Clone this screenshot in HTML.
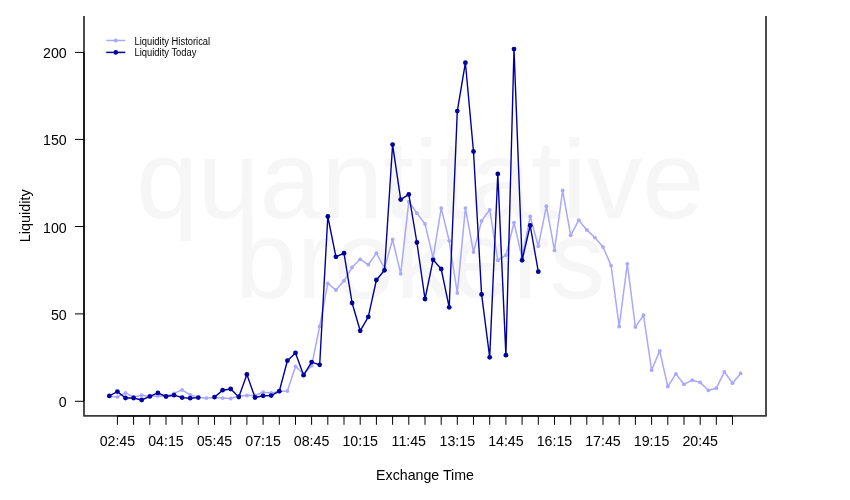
<!DOCTYPE html>
<html><head><meta charset="utf-8"><style>
html,body{margin:0;padding:0;background:#fff;width:850px;height:500px;overflow:hidden}
svg{display:block;will-change:transform}
text{font-family:"Liberation Sans",sans-serif;fill:#000}
</style></head><body>
<svg width="850" height="500" viewBox="0 0 850 500">
<g style="fill:#f6f6f6" font-family="Liberation Sans, sans-serif" font-size="111" text-anchor="middle"><text style="fill:#f6f6f6" x="420" y="218">quantitative</text><text style="fill:#f6f6f6" x="420" y="298">brokers</text></g>
<polyline points="109.3,396.6 117.4,396.9 125.5,393.0 133.6,396.9 141.7,395.2 149.8,396.6 157.9,395.9 166.0,396.2 174.1,393.4 182.1,389.9 190.2,394.8 198.3,397.4 206.4,398.1 214.5,397.6 222.6,398.1 230.7,398.5 238.8,396.0 246.9,395.5 255.0,395.5 263.1,392.2 271.2,393.0 279.3,391.5 287.4,391.0 295.5,366.5 303.6,374.0 311.6,365.7 319.7,326.4 327.8,283.4 335.9,290.0 344.0,280.8 352.1,267.3 360.2,259.3 368.3,264.7 376.4,253.2 384.5,268.0 392.6,239.5 400.7,273.8 408.8,201.7 416.9,213.2 425.0,224.0 433.1,258.0 441.2,208.1 449.2,240.8 457.3,293.0 465.4,208.1 473.5,252.1 481.6,220.9 489.7,209.8 497.8,260.4 505.9,255.2 514.0,222.7 522.1,258.0 530.2,216.5 538.3,246.2 546.4,206.2 554.5,250.4 562.6,190.5 570.7,235.3 578.8,220.2 586.8,229.9 594.9,237.6 603.0,247.0 611.1,265.6 619.2,326.5 627.3,263.8 635.4,327.1 643.5,315.2 651.6,370.2 659.7,350.9 667.8,386.5 675.9,373.9 684.0,384.3 692.1,380.2 700.2,382.4 708.3,390.3 716.3,388.2 724.4,371.8 732.5,383.2 740.6,373.4" fill="none" stroke="#a8a8fc" stroke-width="1.5" stroke-linejoin="round"/>
<circle cx="109.3" cy="396.6" r="1.9" fill="#a8a8fc"/>
<circle cx="117.4" cy="396.9" r="1.9" fill="#a8a8fc"/>
<circle cx="125.5" cy="393.0" r="1.9" fill="#a8a8fc"/>
<circle cx="133.6" cy="396.9" r="1.9" fill="#a8a8fc"/>
<circle cx="141.7" cy="395.2" r="1.9" fill="#a8a8fc"/>
<circle cx="149.8" cy="396.6" r="1.9" fill="#a8a8fc"/>
<circle cx="157.9" cy="395.9" r="1.9" fill="#a8a8fc"/>
<circle cx="166.0" cy="396.2" r="1.9" fill="#a8a8fc"/>
<circle cx="174.1" cy="393.4" r="1.9" fill="#a8a8fc"/>
<circle cx="182.1" cy="389.9" r="1.9" fill="#a8a8fc"/>
<circle cx="190.2" cy="394.8" r="1.9" fill="#a8a8fc"/>
<circle cx="198.3" cy="397.4" r="1.9" fill="#a8a8fc"/>
<circle cx="206.4" cy="398.1" r="1.9" fill="#a8a8fc"/>
<circle cx="214.5" cy="397.6" r="1.9" fill="#a8a8fc"/>
<circle cx="222.6" cy="398.1" r="1.9" fill="#a8a8fc"/>
<circle cx="230.7" cy="398.5" r="1.9" fill="#a8a8fc"/>
<circle cx="238.8" cy="396.0" r="1.9" fill="#a8a8fc"/>
<circle cx="246.9" cy="395.5" r="1.9" fill="#a8a8fc"/>
<circle cx="255.0" cy="395.5" r="1.9" fill="#a8a8fc"/>
<circle cx="263.1" cy="392.2" r="1.9" fill="#a8a8fc"/>
<circle cx="271.2" cy="393.0" r="1.9" fill="#a8a8fc"/>
<circle cx="279.3" cy="391.5" r="1.9" fill="#a8a8fc"/>
<circle cx="287.4" cy="391.0" r="1.9" fill="#a8a8fc"/>
<circle cx="295.5" cy="366.5" r="1.9" fill="#a8a8fc"/>
<circle cx="303.6" cy="374.0" r="1.9" fill="#a8a8fc"/>
<circle cx="311.6" cy="365.7" r="1.9" fill="#a8a8fc"/>
<circle cx="319.7" cy="326.4" r="1.9" fill="#a8a8fc"/>
<circle cx="327.8" cy="283.4" r="1.9" fill="#a8a8fc"/>
<circle cx="335.9" cy="290.0" r="1.9" fill="#a8a8fc"/>
<circle cx="344.0" cy="280.8" r="1.9" fill="#a8a8fc"/>
<circle cx="352.1" cy="267.3" r="1.9" fill="#a8a8fc"/>
<circle cx="360.2" cy="259.3" r="1.9" fill="#a8a8fc"/>
<circle cx="368.3" cy="264.7" r="1.9" fill="#a8a8fc"/>
<circle cx="376.4" cy="253.2" r="1.9" fill="#a8a8fc"/>
<circle cx="384.5" cy="268.0" r="1.9" fill="#a8a8fc"/>
<circle cx="392.6" cy="239.5" r="1.9" fill="#a8a8fc"/>
<circle cx="400.7" cy="273.8" r="1.9" fill="#a8a8fc"/>
<circle cx="408.8" cy="201.7" r="1.9" fill="#a8a8fc"/>
<circle cx="416.9" cy="213.2" r="1.9" fill="#a8a8fc"/>
<circle cx="425.0" cy="224.0" r="1.9" fill="#a8a8fc"/>
<circle cx="433.1" cy="258.0" r="1.9" fill="#a8a8fc"/>
<circle cx="441.2" cy="208.1" r="1.9" fill="#a8a8fc"/>
<circle cx="449.2" cy="240.8" r="1.9" fill="#a8a8fc"/>
<circle cx="457.3" cy="293.0" r="1.9" fill="#a8a8fc"/>
<circle cx="465.4" cy="208.1" r="1.9" fill="#a8a8fc"/>
<circle cx="473.5" cy="252.1" r="1.9" fill="#a8a8fc"/>
<circle cx="481.6" cy="220.9" r="1.9" fill="#a8a8fc"/>
<circle cx="489.7" cy="209.8" r="1.9" fill="#a8a8fc"/>
<circle cx="497.8" cy="260.4" r="1.9" fill="#a8a8fc"/>
<circle cx="505.9" cy="255.2" r="1.9" fill="#a8a8fc"/>
<circle cx="514.0" cy="222.7" r="1.9" fill="#a8a8fc"/>
<circle cx="522.1" cy="258.0" r="1.9" fill="#a8a8fc"/>
<circle cx="530.2" cy="216.5" r="1.9" fill="#a8a8fc"/>
<circle cx="538.3" cy="246.2" r="1.9" fill="#a8a8fc"/>
<circle cx="546.4" cy="206.2" r="1.9" fill="#a8a8fc"/>
<circle cx="554.5" cy="250.4" r="1.9" fill="#a8a8fc"/>
<circle cx="562.6" cy="190.5" r="1.9" fill="#a8a8fc"/>
<circle cx="570.7" cy="235.3" r="1.9" fill="#a8a8fc"/>
<circle cx="578.8" cy="220.2" r="1.9" fill="#a8a8fc"/>
<circle cx="586.8" cy="229.9" r="1.9" fill="#a8a8fc"/>
<circle cx="594.9" cy="237.6" r="1.9" fill="#a8a8fc"/>
<circle cx="603.0" cy="247.0" r="1.9" fill="#a8a8fc"/>
<circle cx="611.1" cy="265.6" r="1.9" fill="#a8a8fc"/>
<circle cx="619.2" cy="326.5" r="1.9" fill="#a8a8fc"/>
<circle cx="627.3" cy="263.8" r="1.9" fill="#a8a8fc"/>
<circle cx="635.4" cy="327.1" r="1.9" fill="#a8a8fc"/>
<circle cx="643.5" cy="315.2" r="1.9" fill="#a8a8fc"/>
<circle cx="651.6" cy="370.2" r="1.9" fill="#a8a8fc"/>
<circle cx="659.7" cy="350.9" r="1.9" fill="#a8a8fc"/>
<circle cx="667.8" cy="386.5" r="1.9" fill="#a8a8fc"/>
<circle cx="675.9" cy="373.9" r="1.9" fill="#a8a8fc"/>
<circle cx="684.0" cy="384.3" r="1.9" fill="#a8a8fc"/>
<circle cx="692.1" cy="380.2" r="1.9" fill="#a8a8fc"/>
<circle cx="700.2" cy="382.4" r="1.9" fill="#a8a8fc"/>
<circle cx="708.3" cy="390.3" r="1.9" fill="#a8a8fc"/>
<circle cx="716.3" cy="388.2" r="1.9" fill="#a8a8fc"/>
<circle cx="724.4" cy="371.8" r="1.9" fill="#a8a8fc"/>
<circle cx="732.5" cy="383.2" r="1.9" fill="#a8a8fc"/>
<circle cx="740.6" cy="373.4" r="1.9" fill="#a8a8fc"/>
<polyline points="109.3,395.9 117.4,391.6 125.5,398.0 133.6,398.0 141.7,400.0 149.8,396.4 157.9,392.9 166.0,396.5 174.1,395.2 182.1,397.6 190.2,398.2 198.3,397.6" fill="none" stroke="#00009c" stroke-width="1.4" stroke-linejoin="round"/>
<polyline points="214.5,397.1 222.6,390.2 230.7,389.0 238.8,397.0 246.9,374.5 255.0,397.5 263.1,395.8 271.2,395.6 279.3,391.2 287.4,360.7 295.5,352.9 303.6,375.2 311.6,362.1 319.7,364.8 327.8,216.5 335.9,256.8 344.0,253.2 352.1,303.0 360.2,330.8 368.3,316.9 376.4,280.0 384.5,270.3 392.6,144.6 400.7,199.6 408.8,194.4 416.9,242.5 425.0,299.0 433.1,259.8 441.2,269.0 449.2,307.3 457.3,111.1 465.4,62.7 473.5,151.5 481.6,294.4 489.7,357.3 497.8,173.9 505.9,355.2 514.0,49.1 522.1,260.3 530.2,225.5 538.3,271.7" fill="none" stroke="#00009c" stroke-width="1.4" stroke-linejoin="round"/>
<circle cx="109.3" cy="395.9" r="2.4" fill="#00009c"/>
<circle cx="117.4" cy="391.6" r="2.4" fill="#00009c"/>
<circle cx="125.5" cy="398.0" r="2.4" fill="#00009c"/>
<circle cx="133.6" cy="398.0" r="2.4" fill="#00009c"/>
<circle cx="141.7" cy="400.0" r="2.4" fill="#00009c"/>
<circle cx="149.8" cy="396.4" r="2.4" fill="#00009c"/>
<circle cx="157.9" cy="392.9" r="2.4" fill="#00009c"/>
<circle cx="166.0" cy="396.5" r="2.4" fill="#00009c"/>
<circle cx="174.1" cy="395.2" r="2.4" fill="#00009c"/>
<circle cx="182.1" cy="397.6" r="2.4" fill="#00009c"/>
<circle cx="190.2" cy="398.2" r="2.4" fill="#00009c"/>
<circle cx="198.3" cy="397.6" r="2.4" fill="#00009c"/>
<circle cx="214.5" cy="397.1" r="2.4" fill="#00009c"/>
<circle cx="222.6" cy="390.2" r="2.4" fill="#00009c"/>
<circle cx="230.7" cy="389.0" r="2.4" fill="#00009c"/>
<circle cx="238.8" cy="397.0" r="2.4" fill="#00009c"/>
<circle cx="246.9" cy="374.5" r="2.4" fill="#00009c"/>
<circle cx="255.0" cy="397.5" r="2.4" fill="#00009c"/>
<circle cx="263.1" cy="395.8" r="2.4" fill="#00009c"/>
<circle cx="271.2" cy="395.6" r="2.4" fill="#00009c"/>
<circle cx="279.3" cy="391.2" r="2.4" fill="#00009c"/>
<circle cx="287.4" cy="360.7" r="2.4" fill="#00009c"/>
<circle cx="295.5" cy="352.9" r="2.4" fill="#00009c"/>
<circle cx="303.6" cy="375.2" r="2.4" fill="#00009c"/>
<circle cx="311.6" cy="362.1" r="2.4" fill="#00009c"/>
<circle cx="319.7" cy="364.8" r="2.4" fill="#00009c"/>
<circle cx="327.8" cy="216.5" r="2.4" fill="#00009c"/>
<circle cx="335.9" cy="256.8" r="2.4" fill="#00009c"/>
<circle cx="344.0" cy="253.2" r="2.4" fill="#00009c"/>
<circle cx="352.1" cy="303.0" r="2.4" fill="#00009c"/>
<circle cx="360.2" cy="330.8" r="2.4" fill="#00009c"/>
<circle cx="368.3" cy="316.9" r="2.4" fill="#00009c"/>
<circle cx="376.4" cy="280.0" r="2.4" fill="#00009c"/>
<circle cx="384.5" cy="270.3" r="2.4" fill="#00009c"/>
<circle cx="392.6" cy="144.6" r="2.4" fill="#00009c"/>
<circle cx="400.7" cy="199.6" r="2.4" fill="#00009c"/>
<circle cx="408.8" cy="194.4" r="2.4" fill="#00009c"/>
<circle cx="416.9" cy="242.5" r="2.4" fill="#00009c"/>
<circle cx="425.0" cy="299.0" r="2.4" fill="#00009c"/>
<circle cx="433.1" cy="259.8" r="2.4" fill="#00009c"/>
<circle cx="441.2" cy="269.0" r="2.4" fill="#00009c"/>
<circle cx="449.2" cy="307.3" r="2.4" fill="#00009c"/>
<circle cx="457.3" cy="111.1" r="2.4" fill="#00009c"/>
<circle cx="465.4" cy="62.7" r="2.4" fill="#00009c"/>
<circle cx="473.5" cy="151.5" r="2.4" fill="#00009c"/>
<circle cx="481.6" cy="294.4" r="2.4" fill="#00009c"/>
<circle cx="489.7" cy="357.3" r="2.4" fill="#00009c"/>
<circle cx="497.8" cy="173.9" r="2.4" fill="#00009c"/>
<circle cx="505.9" cy="355.2" r="2.4" fill="#00009c"/>
<circle cx="514.0" cy="49.1" r="2.4" fill="#00009c"/>
<circle cx="522.1" cy="260.3" r="2.4" fill="#00009c"/>
<circle cx="530.2" cy="225.5" r="2.4" fill="#00009c"/>
<circle cx="538.3" cy="271.7" r="2.4" fill="#00009c"/>
<path d="M84,16 V415.9 H766 V16" fill="none" stroke="#3a3a3a" stroke-width="1.8" stroke-linejoin="round"/>
<line x1="84" y1="52.4" x2="84" y2="401.3" stroke="#151515" stroke-width="1.7"/>
<line x1="75" y1="401.3" x2="84" y2="401.3" stroke="#000" stroke-width="1"/>
<text x="66.7" y="407.3" text-anchor="end" font-size="14.2">0</text>
<line x1="75" y1="313.9" x2="84" y2="313.9" stroke="#000" stroke-width="1"/>
<text x="66.7" y="319.9" text-anchor="end" font-size="14.2">50</text>
<line x1="75" y1="226.5" x2="84" y2="226.5" stroke="#000" stroke-width="1"/>
<text x="66.7" y="232.5" text-anchor="end" font-size="14.2">100</text>
<line x1="75" y1="139.4" x2="84" y2="139.4" stroke="#000" stroke-width="1"/>
<text x="66.7" y="145.4" text-anchor="end" font-size="14.2">150</text>
<line x1="75" y1="52.4" x2="84" y2="52.4" stroke="#000" stroke-width="1"/>
<text x="66.7" y="58.4" text-anchor="end" font-size="14.2">200</text>
<line x1="117.4" y1="415.9" x2="732.5" y2="415.9" stroke="#151515" stroke-width="1.7"/>
<line x1="117.4" y1="415.9" x2="117.4" y2="424.8" stroke="#000" stroke-width="1"/>
<line x1="133.6" y1="415.9" x2="133.6" y2="424.8" stroke="#000" stroke-width="1"/>
<line x1="149.8" y1="415.9" x2="149.8" y2="424.8" stroke="#000" stroke-width="1"/>
<line x1="166.0" y1="415.9" x2="166.0" y2="424.8" stroke="#000" stroke-width="1"/>
<line x1="182.1" y1="415.9" x2="182.1" y2="424.8" stroke="#000" stroke-width="1"/>
<line x1="198.3" y1="415.9" x2="198.3" y2="424.8" stroke="#000" stroke-width="1"/>
<line x1="214.5" y1="415.9" x2="214.5" y2="424.8" stroke="#000" stroke-width="1"/>
<line x1="230.7" y1="415.9" x2="230.7" y2="424.8" stroke="#000" stroke-width="1"/>
<line x1="246.9" y1="415.9" x2="246.9" y2="424.8" stroke="#000" stroke-width="1"/>
<line x1="263.1" y1="415.9" x2="263.1" y2="424.8" stroke="#000" stroke-width="1"/>
<line x1="279.3" y1="415.9" x2="279.3" y2="424.8" stroke="#000" stroke-width="1"/>
<line x1="295.5" y1="415.9" x2="295.5" y2="424.8" stroke="#000" stroke-width="1"/>
<line x1="311.6" y1="415.9" x2="311.6" y2="424.8" stroke="#000" stroke-width="1"/>
<line x1="327.8" y1="415.9" x2="327.8" y2="424.8" stroke="#000" stroke-width="1"/>
<line x1="344.0" y1="415.9" x2="344.0" y2="424.8" stroke="#000" stroke-width="1"/>
<line x1="360.2" y1="415.9" x2="360.2" y2="424.8" stroke="#000" stroke-width="1"/>
<line x1="376.4" y1="415.9" x2="376.4" y2="424.8" stroke="#000" stroke-width="1"/>
<line x1="392.6" y1="415.9" x2="392.6" y2="424.8" stroke="#000" stroke-width="1"/>
<line x1="408.8" y1="415.9" x2="408.8" y2="424.8" stroke="#000" stroke-width="1"/>
<line x1="425.0" y1="415.9" x2="425.0" y2="424.8" stroke="#000" stroke-width="1"/>
<line x1="441.2" y1="415.9" x2="441.2" y2="424.8" stroke="#000" stroke-width="1"/>
<line x1="457.3" y1="415.9" x2="457.3" y2="424.8" stroke="#000" stroke-width="1"/>
<line x1="473.5" y1="415.9" x2="473.5" y2="424.8" stroke="#000" stroke-width="1"/>
<line x1="489.7" y1="415.9" x2="489.7" y2="424.8" stroke="#000" stroke-width="1"/>
<line x1="505.9" y1="415.9" x2="505.9" y2="424.8" stroke="#000" stroke-width="1"/>
<line x1="522.1" y1="415.9" x2="522.1" y2="424.8" stroke="#000" stroke-width="1"/>
<line x1="538.3" y1="415.9" x2="538.3" y2="424.8" stroke="#000" stroke-width="1"/>
<line x1="554.5" y1="415.9" x2="554.5" y2="424.8" stroke="#000" stroke-width="1"/>
<line x1="570.7" y1="415.9" x2="570.7" y2="424.8" stroke="#000" stroke-width="1"/>
<line x1="586.8" y1="415.9" x2="586.8" y2="424.8" stroke="#000" stroke-width="1"/>
<line x1="603.0" y1="415.9" x2="603.0" y2="424.8" stroke="#000" stroke-width="1"/>
<line x1="619.2" y1="415.9" x2="619.2" y2="424.8" stroke="#000" stroke-width="1"/>
<line x1="635.4" y1="415.9" x2="635.4" y2="424.8" stroke="#000" stroke-width="1"/>
<line x1="651.6" y1="415.9" x2="651.6" y2="424.8" stroke="#000" stroke-width="1"/>
<line x1="667.8" y1="415.9" x2="667.8" y2="424.8" stroke="#000" stroke-width="1"/>
<line x1="684.0" y1="415.9" x2="684.0" y2="424.8" stroke="#000" stroke-width="1"/>
<line x1="700.2" y1="415.9" x2="700.2" y2="424.8" stroke="#000" stroke-width="1"/>
<line x1="716.3" y1="415.9" x2="716.3" y2="424.8" stroke="#000" stroke-width="1"/>
<line x1="732.5" y1="415.9" x2="732.5" y2="424.8" stroke="#000" stroke-width="1"/>
<text x="117.4" y="446" text-anchor="middle" font-size="14.2">02:45</text>
<text x="166.0" y="446" text-anchor="middle" font-size="14.2">04:15</text>
<text x="214.5" y="446" text-anchor="middle" font-size="14.2">05:45</text>
<text x="263.1" y="446" text-anchor="middle" font-size="14.2">07:15</text>
<text x="311.6" y="446" text-anchor="middle" font-size="14.2">08:45</text>
<text x="360.2" y="446" text-anchor="middle" font-size="14.2">10:15</text>
<text x="408.8" y="446" text-anchor="middle" font-size="14.2">11:45</text>
<text x="457.3" y="446" text-anchor="middle" font-size="14.2">13:15</text>
<text x="505.9" y="446" text-anchor="middle" font-size="14.2">14:45</text>
<text x="554.5" y="446" text-anchor="middle" font-size="14.2">16:15</text>
<text x="603.0" y="446" text-anchor="middle" font-size="14.2">17:45</text>
<text x="651.6" y="446" text-anchor="middle" font-size="14.2">19:15</text>
<text x="700.2" y="446" text-anchor="middle" font-size="14.2">20:45</text>
<text x="425" y="479.6" text-anchor="middle" font-size="14.2">Exchange Time</text>
<text transform="translate(30.3,215.8) rotate(-90)" text-anchor="middle" font-size="14.4">Liquidity</text>
<line x1="106.3" y1="40.5" x2="125.3" y2="40.5" stroke="#a8a8fc" stroke-width="1.5"/><circle cx="115.8" cy="40.5" r="2.1" fill="#a8a8fc"/>
<line x1="106.3" y1="52.4" x2="125.3" y2="52.4" stroke="#00009c" stroke-width="1.5"/><circle cx="115.8" cy="52.4" r="2.3" fill="#00009c"/>
<g transform="translate(134.5,0) scale(0.855,1)" font-size="11"><text x="0" y="44.8">Liquidity Historical</text><text x="0" y="55.8">Liquidity Today</text></g>
</svg></body></html>
